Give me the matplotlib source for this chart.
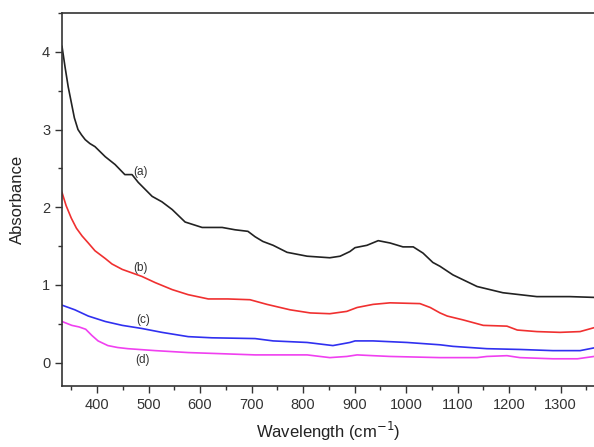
import matplotlib
matplotlib.use("Agg")
import matplotlib.pyplot as plt
from matplotlib.ticker import MultipleLocator

plt.rcParams['font.family'] = ['Liberation Sans', 'DejaVu Sans']

# Curve (a)
xa = [332, 338, 344, 350, 356, 363, 370, 377, 386, 396, 416, 435, 454, 468, 480, 507, 526, 546, 571,
      604, 643, 668, 693, 707, 722, 742, 769, 808, 852, 872, 891, 901, 924, 946, 969, 994, 1014, 1033,
      1052, 1066, 1091, 1138, 1188, 1254, 1318, 1365]
ya = [4.07, 3.80, 3.55, 3.35, 3.15, 3.00, 2.93, 2.87, 2.82, 2.78, 2.65, 2.55, 2.42, 2.42, 2.32, 2.14,
      2.07, 1.97, 1.81, 1.74, 1.74, 1.71, 1.69, 1.62, 1.56, 1.51, 1.42, 1.37, 1.35, 1.37, 1.43, 1.48,
      1.51, 1.57, 1.54, 1.49, 1.49, 1.41, 1.29, 1.24, 1.13, 0.98, 0.90, 0.85, 0.85, 0.84]

# Curve (b)
xb = [332, 340, 350, 360, 371, 383, 396, 416, 429, 449, 487, 513, 546, 577, 616, 654, 697, 730, 775,
      814, 852, 885, 905, 936, 969, 1027, 1047, 1066, 1080, 1111, 1150, 1196, 1216, 1254, 1299, 1338,
      1365]
yb = [2.19, 2.02, 1.86, 1.73, 1.63, 1.54, 1.44, 1.34, 1.27, 1.20, 1.11, 1.03, 0.94, 0.875, 0.82, 0.82,
      0.81, 0.75, 0.68, 0.64, 0.63, 0.66, 0.71, 0.75, 0.77, 0.76, 0.71, 0.64, 0.60, 0.55, 0.48, 0.47,
      0.42, 0.40, 0.39, 0.40, 0.45]

# Curve (c)
xc = [332, 357, 383, 416, 449, 487, 526, 577, 623, 707, 742, 808, 858, 891, 901, 936, 1002, 1066,
      1091, 1157, 1221, 1285, 1338, 1365]
yc = [0.74, 0.68, 0.60, 0.53, 0.48, 0.44, 0.39, 0.335, 0.32, 0.31, 0.28, 0.26, 0.22, 0.26, 0.28, 0.28,
      0.26, 0.23, 0.21, 0.18, 0.17, 0.155, 0.155, 0.19]

# Curve (d)
xd = [332, 351, 365, 378, 390, 402, 421, 440, 460, 513, 577, 643, 707, 808, 852, 885, 905, 936, 969,
      1066, 1138, 1157, 1196, 1221, 1285, 1333, 1365]
yd = [0.53, 0.48, 0.46, 0.43, 0.35, 0.28, 0.22, 0.195, 0.18, 0.155, 0.13, 0.115, 0.10, 0.10, 0.065,
      0.08, 0.10, 0.09, 0.08, 0.065, 0.065, 0.08, 0.09, 0.065, 0.05, 0.05, 0.08]

labels = ["(a)", "(b)", "(c)", "(d)"]
label_x = [485, 485, 489, 489]
label_y = [2.45, 1.22, 0.55, 0.04]
colors = ["#222222", "#f03030", "#3030f0", "#f040f0"]

fig = plt.figure(figsize=(5.94, 4.47), dpi=100)
ax = fig.add_axes([0.1044, 0.1365, 0.8956, 0.8345])

for xs, ys, c in zip([xa, xb, xc, xd], [ya, yb, yc, yd], colors):
    ax.plot(xs, ys, color=c, lw=1.2)

for lab, lx, ly in zip(labels, label_x, label_y):
    ax.text(lx, ly, lab, fontsize=8.5, color="#333333", ha="center", va="center")

ax.set_xlim(332, 1365)
ax.set_ylim(-0.3, 4.5)
ax.xaxis.set_major_locator(MultipleLocator(100))
ax.xaxis.set_minor_locator(MultipleLocator(50))
ax.yaxis.set_major_locator(MultipleLocator(1))
ax.yaxis.set_minor_locator(MultipleLocator(0.5))
ax.spines["right"].set_visible(False)
for s in ["left", "top", "bottom"]:
    ax.spines[s].set_linewidth(1.2)
    ax.spines[s].set_color("#333333")
ax.tick_params(which="major", direction="out", length=5, width=1, labelsize=10.5, colors="#333333")
ax.tick_params(which="minor", direction="out", length=3, width=1, colors="#333333")
ax.tick_params(top=False, right=False)
ax.set_xlabel("Wavelength (cm$^{-1}$)", fontsize=12, color="#222222", labelpad=6)
ax.set_ylabel("Absorbance", fontsize=12, color="#222222", labelpad=12)

fig.savefig("out.png", dpi=100)
